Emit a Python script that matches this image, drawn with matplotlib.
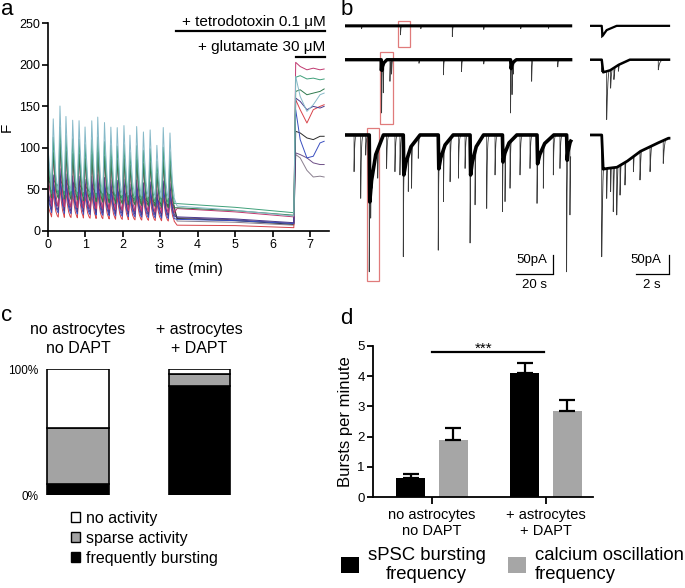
import numpy as np
import matplotlib
matplotlib.use('Agg')
import matplotlib.pyplot as plt
from matplotlib.patches import Rectangle, Patch

plt.rcParams['font.family'] = ['Liberation Sans', 'DejaVu Sans']

W, H = 685, 588

# ---------------- panel a: calcium traces ----------------
peak_times = [0.14, 0.32, 0.48, 0.66, 0.83, 0.99, 1.17, 1.33, 1.51, 1.68,
              1.85, 2.03, 2.19, 2.37, 2.55, 2.73, 2.91, 3.08, 3.26]
teal_peaks = [130, 146, 134, 130, 130, 123, 131, 136, 130, 125,
              125, 128, 117, 128, 122, 125, 107, 129, 123]

# order: gray, grey-purple, black, red, blue, purple, magenta, dark green, green, teal
trace_colors = ['#8a7f8f', '#6e4f86', '#2b2b2b', '#d8434a', '#3a4fc0',
                '#4b3a8c', '#c0386f', '#2f7a4e', '#3fa07a', '#86b9c8']
start_vals = [55, 48, 62, 30, 40, 45, 70, 80, 90, 100]
trough_first = [45, 30, 55, 17, 22, 25, 30, 40, 45, 50]
trough_last = [28, 20, 30, 12, 15, 18, 22, 28, 33, 40]
peak_gain = [0.15, 0.35, 0.1, 0.35, 0.4, 0.5, 0.75, 0.65, 0.8, 1.0]
ttx_first = [12, 16, 15, 7, 14, 17, 27, 28, 33, 30]
ttx_last = [7, 9, 8, 4, 9, 10, 17, 19, 22, 18]
glu_times = [6.62, 6.74, 6.92, 7.09, 7.27, 7.38]
glu_vals = [
    [92, 88, 73, 65, 66, 65],
    [94, 92, 88, 82, 80, 80],
    [120, 118, 112, 110, 114, 114],
    [158, 146, 130, 146, 150, 152],
    [146, 110, 88, 90, 106, 108],
    [160, 156, 146, 150, 148, 150],
    [203, 198, 194, 196, 194, 195],
    [168, 170, 164, 166, 168, 171],
    [185, 187, 183, 184, 182, 183],
    [186, 162, 144, 152, 164, 166],
]
ttx_on, glu_on = 3.42, 6.57

# ---------------- panel b: patch clamp ----------------
b1_spike_t = [9.0, 30.0, 41.0, 58.0, 75.0, 95.0, 110.0]
b1_spike_d = [8, 25, 8, 30, 10, 8, 7]
b2_spike_t = [18.9, 19.8, 20.7, 24.3, 25.2, 40.0, 53.2, 63.0, 75.0,
              89.5, 90.3, 91.0, 100.9, 115.0]
b2_spike_d = [30, 148, 92, 60, 40, 10, 42, 33, 12, 148, 97, 40, 60, 20]
b2_burst_t = [19.6, 89.5]
b2_burst_d = [30, 25]
b2_burst_len = [3.0, 3.0]
b3_burst_t = [13.1, 31.5, 50.4, 67.6, 85.1, 103.8, 119.8]
b3_burst_d = [186, 111, 94, 111, 75, 80, 70]
b3_burst_len = [7.6, 9.0, 8.0, 7.2, 7.7, 9.0, 4.0]
b3_burst_peak = [380, 338, 320, 300, 213, 190, 380]
b3_spike_t = [4.9, 8.5, 11.2, 13.9, 14.6, 17.7, 22.5, 27.0, 29.7, 34.2, 36.0,
              39.6, 53.2, 56.8, 61.3, 64.9, 70.3, 76.6, 81.1, 86.5, 89.2,
              94.6, 100.0, 107.2, 112.6, 116.2, 121.6]
b3_spike_d = [102, 176, 56, 231, 148, 120, 93, 102, 111, 157, 148, 65, 185,
              130, 120, 93, 194, 204, 111, 185, 148, 111, 93, 148, 111, 93, 222]
trace_offsets = [0, -94, -303]

z1_env_t = [0.71, 0.76, 1.0, 1.6]
z1_env_d = [0, 28, 12, 0]
z1_spike_t = [0.71]
z1_spike_d = [33]
z2_env_t = [0.71, 0.8, 1.2, 1.7, 2.4]
z2_env_d = [0, 35, 30, 15, 0]
z2_spike_t = [0.71, 1.01, 1.25, 1.45, 1.72, 4.14]
z2_spike_d = [33, 166, 79, 55, 32, 28]
z3_env_t = [0.71, 0.8, 1.01, 1.62, 2.22, 3.03, 3.84, 4.74]
z3_env_d = [0, 95, 93, 90, 74, 46, 28, 9]
z3_spike_t = [0.71, 1.01, 1.25, 1.41, 1.62, 1.82, 2.12, 2.63, 3.03, 3.64, 4.44]
z3_spike_d = [338, 176, 157, 213, 222, 167, 139, 102, 125, 102, 79]
zoom_windows = [(28.6, 35.1), (18.9, 25.9), (11.9, 18.4)]

# ---------------- panel c ----------------
c_groups = ['no astrocytes\nno DAPT', '+ astrocytes\n+ DAPT']
c_bursting = [8.5, 86.8]
c_sparse = [44.9, 9.2]
c_none = [46.6, 4.0]

# ---------------- panel d ----------------
d_groups = ['no astrocytes\nno DAPT', '+ astrocytes\n+ DAPT']
spsc_mean = [0.64, 4.11]
spsc_sem = [0.12, 0.34]
calcium_mean = [1.90, 2.85]
calcium_sem = [0.38, 0.36]


fig = plt.figure(figsize=(W / 100, H / 100), dpi=100)


def ax_px(x0, y0, x1, y1):
    return fig.add_axes([x0 / W, 1 - y1 / H, (x1 - x0) / W, (y1 - y0) / H])


def calcium_trace(i):
    ts, vs = [0.0], [start_vals[i]]
    n = len(peak_times)
    for k, (p, h) in enumerate(zip(peak_times, teal_peaks)):
        tr = trough_first[i] + (trough_last[i] - trough_first[i]) * k / (n - 1)
        pk = tr + peak_gain[i] * (h - 45)
        ts += [p - 0.045, p, p + 0.03, p + 0.07, p + 0.11]
        vs += [tr, pk, tr + 0.6 * (pk - tr), tr + 0.22 * (pk - tr), tr + 0.04 * (pk - tr)]
    ts += [3.37, ttx_on + 0.03, 5.0, glu_on]
    vs += [trough_last[i], ttx_first[i], (ttx_first[i] + ttx_last[i]) / 2 + 1, ttx_last[i]]
    ts += glu_times
    vs += glu_vals[i]
    return ts, vs


def ephys(t, spike_t, spike_d, tau, env_t=(0,), env_d=(0,)):
    env = -np.interp(t, env_t, env_d)
    y = env.copy()
    for t0, d in zip(spike_t, spike_d):
        dt = np.clip(t - t0, 0, None)
        y = np.minimum(y, np.where(t >= t0, -d * np.exp(-dt / tau), 0))
    return env, y


def burst_env(times, depths, lengths):
    et, ed = [], []
    for t0, d, n in zip(times, depths, lengths):
        et += [t0, t0 + 0.3, t0 + 0.15 * n, t0 + 0.45 * n, t0 + n]
        ed += [0, d, 0.7 * d, 0.3 * d, 0]
    return et, ed


# ===== a =====
ax = ax_px(48, 23.3, 329, 231)
for i, col in enumerate(trace_colors):
    ts, vs = calcium_trace(i)
    ax.plot(ts, vs, color=col, lw=0.7)
ax.set_xlim(0, 7.51)
ax.set_ylim(0, 250)
ax.set_xticks(range(8))
ax.set_yticks(range(0, 251, 50))
for s in ['top', 'right']:
    ax.spines[s].set_visible(False)
for s in ['left', 'bottom']:
    ax.spines[s].set_linewidth(1.2)
ax.tick_params(direction='out', length=4, width=1.2, labelsize=9, pad=1.5)
ax.set_xlabel('time (min)', fontsize=11, labelpad=8)
ax.set_ylabel('F', fontsize=11, labelpad=4)
ax.plot([ttx_on, 7.41], [240.7, 240.7], color='black', lw=1.6, clip_on=False)
ax.plot([glu_on + 0.06, 7.41], [209.4, 209.4], color='black', lw=1.6, clip_on=False)
ax.text(7.41, 251.6, '+ tetrodotoxin 0.1 μM', ha='right', va='center', fontsize=11)
ax.text(7.41, 221.5, '+ glutamate 30 μM', ha='right', va='center', fontsize=11)

# ===== b =====
ylim_b = (-739, 44)
axl = ax_px(345, 10, 345 + 124 * 1.85, 292)
axz = ax_px(590, 10, 590 + 5 * 16.5, 292)
t_long = np.arange(0, 122, 0.01)
t_zoom = np.arange(0, 4.79, 0.002)

b2_env_t, b2_env_d = burst_env(b2_burst_t, b2_burst_d, b2_burst_len)
b3_env_t, b3_env_d = burst_env(b3_burst_t, b3_burst_d, b3_burst_len)

long_traces = [
    ephys(t_long, b1_spike_t, b1_spike_d, 0.2),
    ephys(t_long, b2_spike_t, b2_spike_d, 0.2, b2_env_t, b2_env_d),
    ephys(t_long, b3_spike_t + b3_burst_t, b3_spike_d + b3_burst_peak, 0.3,
          b3_env_t, b3_env_d),
]
zoom_traces = [
    ephys(t_zoom, z1_spike_t, z1_spike_d, 0.25, z1_env_t, z1_env_d),
    ephys(t_zoom, z2_spike_t, z2_spike_d, 0.08, z2_env_t, z2_env_d),
    ephys(t_zoom, z3_spike_t, z3_spike_d, 0.08, z3_env_t, z3_env_d),
]
band = [2.2, 2.4, 2.6]
for k, ((env, y), off) in enumerate(zip(long_traces, trace_offsets)):
    axl.plot(t_long, y + off, color='#3a3a3a', lw=0.55)
    axl.plot(t_long, env + off, color='black', lw=band[k])
for k, ((env, y), off) in enumerate(zip(zoom_traces, trace_offsets)):
    axz.plot(t_zoom, y + off, color='#3a3a3a', lw=0.6)
    axz.plot(t_zoom, env + off, color='black', lw=band[k] - 0.6)

box_y = [(-58, 13.9), (-272, -72), (-708, -283)]
for (x0, x1), (y0, y1) in zip(zoom_windows, box_y):
    axl.add_patch(Rectangle((x0, y0), x1 - x0, y1 - y0, fill=False,
                            ec='#e07b7b', lw=0.9))

for a in (axl, axz):
    a.set_ylim(*ylim_b)
    a.axis('off')
axl.set_xlim(0, 124)
axz.set_xlim(0, 5)

axl.plot([92.4, 112.4], [-689, -689], color='black', lw=0.9)
axl.plot([112.4, 112.4], [-636, -686], color='black', lw=0.9)
axl.text(100.8, -650, '50pA', ha='center', va='center', fontsize=9.5)
axl.text(102.4, -719, '20 s', ha='center', va='center', fontsize=9.5)
axz.plot([2.79, 4.79], [-689, -689], color='black', lw=0.9)
axz.plot([4.79, 4.79], [-636, -686], color='black', lw=0.9)
axz.text(3.36, -650, '50pA', ha='center', va='center', fontsize=9.5)
axz.text(3.74, -719, '2 s', ha='center', va='center', fontsize=9.5)

# ===== c =====
axc = ax_px(44, 369, 260, 495)
xc = np.arange(len(c_groups))
bottoms2 = np.array(c_bursting) + np.array(c_sparse)
axc.bar(xc, c_bursting, 0.51, color='black', ec='black', lw=1.2, label='frequently bursting')
axc.bar(xc, c_sparse, 0.51, bottom=c_bursting, color='#a3a3a3', ec='black', lw=1.2,
        label='sparse activity')
axc.bar(xc, c_none, 0.51, bottom=bottoms2, color='white', ec='black', lw=1.2,
        label='no activity')
axc.set_xlim(-0.28, 1.498)
axc.set_ylim(0, 100)
axc.set_yticks([0, 100], ['0%', '100%'])
axc.set_xticks([])
axc.tick_params(axis='y', length=0, pad=4, labelsize=8.5)
for s in axc.spines.values():
    s.set_visible(False)
for x, g in zip(xc, c_groups):
    axc.text(x, 110, g, ha='center', va='bottom', fontsize=11.5, linespacing=1.4)
handles = [Patch(fc='white', ec='black', lw=1), Patch(fc='#a3a3a3', ec='black', lw=1),
           Patch(fc='black', ec='black', lw=1)]
axc.legend(handles, ['no activity', 'sparse activity', 'frequently bursting'],
           loc='upper left', bbox_to_anchor=(71 / W, 1 - 511 / H),
           bbox_transform=fig.transFigure, frameon=False, fontsize=11.5,
           borderpad=0, borderaxespad=0, handlelength=0.58, handleheight=0.58,
           handletextpad=0.35, labelspacing=0.3)

# ===== d =====
axd = ax_px(373, 346, 593, 497)
xd = np.arange(len(d_groups))
ekw = dict(elinewidth=1.6, capthick=1.6, ecolor='black')
b1 = axd.bar(xd - 0.185, spsc_mean, 0.254, color='black',
             yerr=[np.zeros(2), spsc_sem], capsize=5.5, error_kw=ekw)
b2 = axd.bar(xd + 0.185, calcium_mean, 0.254, color='#a6a6a6',
             yerr=[np.zeros(2), calcium_sem], capsize=5.5, error_kw=ekw)
axd.set_xlim(-0.518, 1.412)
axd.set_ylim(0, 5)
axd.set_xticks(xd, d_groups, fontsize=10.5, linespacing=1.2)
axd.set_yticks(range(6))
for s in ['top', 'right']:
    axd.spines[s].set_visible(False)
for s in ['left', 'bottom']:
    axd.spines[s].set_linewidth(1.3)
axd.tick_params(axis='y', direction='out', length=4, width=1.3, labelsize=9.5, pad=2)
axd.tick_params(axis='x', direction='out', length=5, width=1.3, pad=3)
axd.set_ylabel('Bursts per minute', fontsize=12, labelpad=3)
axd.plot([0, 0.98], [4.79, 4.79], color='black', lw=1.6, clip_on=False)
axd.text(0.456, 4.76, '***', ha='center', va='baseline', fontsize=11)
leg = axd.legend([b1, b2], ['sPSC bursting\nfrequency', 'calcium oscillation\nfrequency'],
                 ncol=2, loc='upper left', bbox_to_anchor=(341 / W, 1 - 547 / H),
                 bbox_transform=fig.transFigure, frameon=False, fontsize=13.3,
                 borderpad=0, borderaxespad=0, handlelength=1.0, handleheight=1.0,
                 handletextpad=0.45, columnspacing=1.2)
leg.get_texts()[0].set_multialignment('center')
for t in leg.get_texts():
    t.set_linespacing(1.15)

# panel letters
for lab, x, y in [('a', 0.5, 15), ('b', 341, 15), ('c', 0.5, 321), ('d', 340, 324)]:
    fig.text(x / W, 1 - y / H, lab, fontsize=16, va='baseline', ha='left')

fig.savefig('out.png', dpi=100)
